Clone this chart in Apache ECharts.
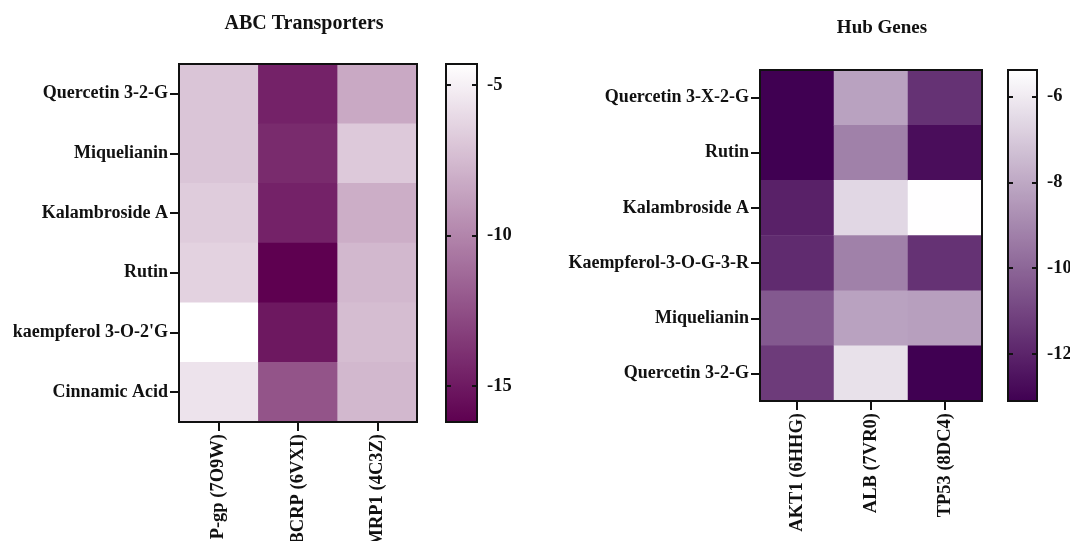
<!DOCTYPE html>
<html>
<head>
<meta charset="utf-8">
<title>Docking heatmaps</title>
<script src="https://cdn.jsdelivr.net/npm/echarts@6/dist/echarts.min.js"></script>
<style>
  html, body { margin: 0; padding: 0; background: #fff; }
  #chart { width: 1070px; height: 541px; }
</style>
</head>
<body>
<div id="chart"></div>
<script>
// ABC transporters panel
const abcCompounds = ['Quercetin 3-2-G', 'Miquelianin', 'Kalambroside A', 'Rutin', "kaempferol 3-O-2'G", 'Cinnamic Acid']
const abcTargets = ['P-gp (7O9W)', 'BCRP (6VXI)', 'MRP1 (4C3Z)']
const pgp = [-7.0, -7.0, -6.7, -6.4, -4.3, -5.6]
const bcrp = [-14.6, -14.2, -14.6, -16.2, -15.1, -12.3]
const mrp1 = [-8.3, -6.8, -8.1, -7.6, -7.4, -7.6]
const abcRange = [-16.2, -4.3]
const abcTicks = [-15, -10, -5]

// Hub genes panel
const hubCompounds = ['Quercetin 3-X-2-G', 'Rutin', 'Kalambroside A', 'Kaempferol-3-O-G-3-R', 'Miquelianin', 'Quercetin 3-2-G']
const hubTargets = ['AKT1 (6HHG)', 'ALB (7VR0)', 'TP53 (8DC4)']
const akt1 = [-13.1, -13.1, -12.1, -11.8, -10.4, -11.3]
const alb = [-8.2, -9.2, -6.6, -9.2, -8.2, -6.3]
const tp53 = [-11.6, -12.7, -5.4, -11.6, -8.3, -13.1]
const hubRange = [-13.1, -5.38]
const hubTicks = [-12, -10, -8, -6]

const FONT = 'Liberation Serif'
const INK = '#111'

const toCells = (columns) => {
  const cells = []
  columns.forEach((col, x) => {
    col.forEach((v, y) => cells.push([x, y, v]))
  })
  return cells
}

const textStyle = (size) => ({
  fontFamily: FONT,
  fontWeight: 'bold',
  fontSize: size,
  color: INK,
})

// fixed boxes; v6 would otherwise shrink grids to keep labels on the canvas
const gridBox = (left, top, width, height) => ({
  left, top, width, height,
  outerBoundsMode: 'none',
  containLabel: false,
  show: true,
  z: 10,
  borderColor: INK,
  borderWidth: 2,
  backgroundColor: 'transparent',
})

const catX = (gridIndex, data) => ({
  type: 'category',
  gridIndex,
  data,
  z: 10,
  axisLine: { show: true, lineStyle: { color: INK, width: 2 } },
  axisTick: { show: true, alignWithLabel: true, length: 9, lineStyle: { color: INK, width: 2 } },
  axisLabel: { ...textStyle(18.5), rotate: 90, margin: 12 },
  splitLine: { show: false },
})

const catY = (gridIndex, data) => ({
  type: 'category',
  gridIndex,
  data,
  inverse: true,
  z: 10,
  axisLine: { show: true, lineStyle: { color: INK, width: 2 } },
  axisTick: { show: true, alignWithLabel: true, length: 9, lineStyle: { color: INK, width: 2 } },
  axisLabel: { ...textStyle(18), margin: 11 },
  splitLine: { show: false },
})

const barAxes = (gridIndex, range, ticks) => [
  {
    type: 'value',
    gridIndex,
    position: 'left',
    min: range[0],
    max: range[1],
    z: 10,
    axisLine: { show: false },
    axisTick: { show: true, inside: true, length: 5, customValues: ticks, lineStyle: { color: INK, width: 2 } },
    axisLabel: { show: false },
    splitLine: { show: false },
  },
  {
    type: 'value',
    gridIndex,
    position: 'right',
    min: range[0],
    max: range[1],
    z: 10,
    axisLine: { show: false },
    axisTick: { show: true, inside: true, length: 5, customValues: ticks, lineStyle: { color: INK, width: 2 } },
    axisLabel: { ...textStyle(18.5), customValues: ticks, margin: 10 },
    splitLine: { show: false },
  },
]

const chart = echarts.init(document.getElementById('chart'))

const option = {
  animation: false,
  backgroundColor: '#fff',
  title: [
    { text: 'ABC Transporters', left: 299, top: 9, textAlign: 'center', textStyle: textStyle(20) },
    { text: 'Hub Genes', left: 877, top: 14, textAlign: 'center', textStyle: textStyle(19) },
  ],
  grid: [
    gridBox(179, 64, 238, 358),
    gridBox(446, 64, 31, 358),
    gridBox(760, 70, 222, 331),
    gridBox(1008, 70, 29, 331),
  ],
  xAxis: [
    catX(0, abcTargets),
    { type: 'value', gridIndex: 1, show: false },
    catX(2, hubTargets),
    { type: 'value', gridIndex: 3, show: false },
  ],
  yAxis: [
    catY(0, abcCompounds),
    ...barAxes(1, abcRange, abcTicks),
    catY(2, hubCompounds),
    ...barAxes(3, hubRange, hubTicks),
  ],
  visualMap: [
    {
      type: 'continuous',
      seriesIndex: 0,
      min: abcRange[0],
      max: abcRange[1],
      left: 446,
      top: 64,
      itemWidth: 31,
      itemHeight: 358,
      padding: 0,
      calculable: false,
      hoverLink: false,
      inRange: { color: ['#5e0050', '#ffffff'] },
    },
    {
      type: 'continuous',
      seriesIndex: 1,
      min: hubRange[0],
      max: hubRange[1],
      left: 1008,
      top: 70,
      itemWidth: 29,
      itemHeight: 331,
      padding: 0,
      calculable: false,
      hoverLink: false,
      inRange: { color: ['#400052', '#ffffff'] },
    },
  ],
  series: [
    {
      name: 'ABC Transporters',
      type: 'heatmap',
      xAxisIndex: 0,
      yAxisIndex: 0,
      data: toCells([pgp, bcrp, mrp1]),
    },
    {
      name: 'Hub Genes',
      type: 'heatmap',
      xAxisIndex: 2,
      yAxisIndex: 3,
      data: toCells([akt1, alb, tp53]),
    },
  ],
}

chart.setOption(option)
</script>
</body>
</html>
